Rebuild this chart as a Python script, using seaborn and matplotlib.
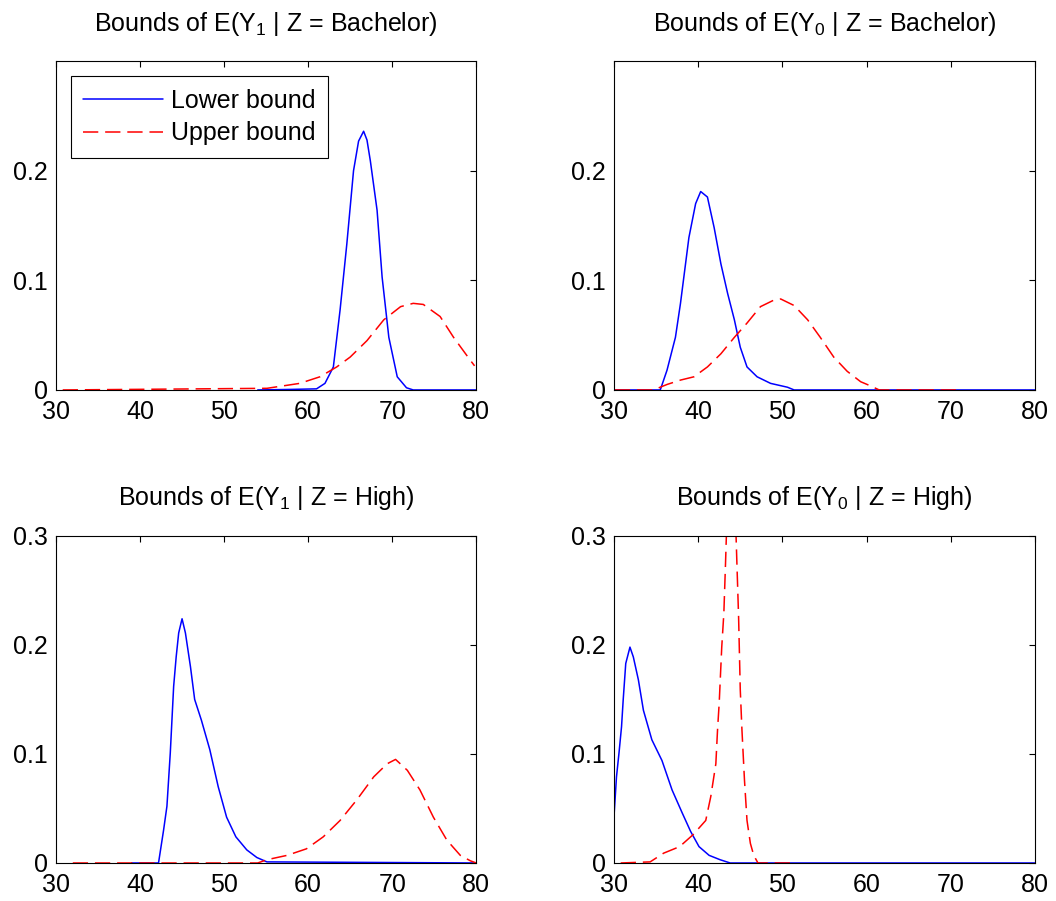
import matplotlib
matplotlib.use('Agg')
import matplotlib.pyplot as plt
import seaborn as sns

# E(Y1 | Z = Bachelor)
y1_bach_lower_x = [54, 58, 61, 62, 63, 63.8, 64.6, 65.4, 66.0, 66.6, 67.0, 67.4, 68.2, 68.8, 69.6, 70.6, 71.7, 72.5, 80]
y1_bach_lower_y = [0, 0.0005, 0.001, 0.006, 0.021, 0.073, 0.133, 0.200, 0.227, 0.236, 0.228, 0.209, 0.164, 0.103, 0.048, 0.012, 0.002, 0, 0]
y1_bach_upper_x = [30.8, 55.1, 59.0, 61.4, 63.4, 65.0, 67.0, 69.0, 71.0, 72.5, 73.7, 75.7, 77.3, 79.3, 79.8]
y1_bach_upper_y = [0, 0.0015, 0.006, 0.012, 0.021, 0.030, 0.045, 0.064, 0.076, 0.079, 0.078, 0.067, 0.048, 0.027, 0.022]

# E(Y0 | Z = Bachelor)
y0_bach_lower_x = [30, 35.5, 36.3, 37.3, 37.9, 38.4, 38.9, 39.7, 40.3, 41.1, 41.9, 42.7, 43.5, 44.3, 45.0, 45.8, 47.0, 48.6, 50.6, 51.4, 80]
y0_bach_lower_y = [0, 0, 0.018, 0.048, 0.079, 0.109, 0.139, 0.170, 0.181, 0.176, 0.148, 0.115, 0.088, 0.064, 0.039, 0.021, 0.012, 0.006, 0.0025, 0, 0]
y0_bach_upper_x = [30.1, 34.7, 36.3, 37.9, 39.5, 41.1, 42.7, 44.3, 45.8, 47.4, 49.0, 49.8, 51.4, 53.0, 54.5, 56.1, 57.7, 59.3, 60.5, 61.5, 71]
y0_bach_upper_y = [0, 0, 0.005, 0.009, 0.012, 0.021, 0.033, 0.048, 0.061, 0.076, 0.082, 0.083, 0.077, 0.064, 0.048, 0.030, 0.017, 0.0075, 0.0036, 0, 0]

# E(Y1 | Z = High)
y1_high_lower_x = [39, 42.2, 42.8, 43.2, 43.6, 44.0, 44.3, 44.6, 45.0, 45.4, 46.0, 46.5, 47.3, 48.3, 49.3, 50.3, 51.4, 52.7, 53.9, 55.1, 80]
y1_high_lower_y = [0, 0, 0.030, 0.052, 0.101, 0.162, 0.189, 0.211, 0.224, 0.211, 0.180, 0.150, 0.131, 0.104, 0.070, 0.042, 0.024, 0.012, 0.005, 0.001, 0]
y1_high_upper_x = [32, 54, 55.1, 57.5, 59.8, 61.8, 63.8, 65.8, 67.8, 69.4, 70.4, 71.8, 73.3, 74.9, 76.5, 78.1, 79.3, 80]
y1_high_upper_y = [0, 0, 0.003, 0.007, 0.013, 0.024, 0.039, 0.058, 0.079, 0.091, 0.095, 0.085, 0.067, 0.042, 0.021, 0.007, 0.002, 0]

# E(Y0 | Z = High)
y0_high_lower_x = [30.0, 30.3, 30.6, 30.9, 31.1, 31.4, 31.9, 32.3, 32.9, 33.5, 34.5, 35.7, 36.9, 38.1, 39.1, 40.1, 41.3, 42.6, 43.8, 80]
y0_high_lower_y = [0.042, 0.079, 0.101, 0.125, 0.150, 0.183, 0.198, 0.189, 0.168, 0.140, 0.113, 0.094, 0.067, 0.046, 0.029, 0.015, 0.007, 0.003, 0, 0]
y0_high_upper_x = [30.8, 34.3, 35.9, 37.8, 39.4, 40.9, 41.5, 42.1, 42.3, 42.5, 42.8, 43.05, 43.25, 43.35, 43.9,
                   44.5, 44.6, 44.8, 45.0, 45.2, 45.5, 45.8, 46.2, 46.6, 47.1, 51.5]
y0_high_upper_y = [0, 0.001, 0.009, 0.015, 0.026, 0.039, 0.061, 0.091, 0.122, 0.147, 0.198, 0.229, 0.275, 0.30, 0.33,
                   0.30, 0.275, 0.226, 0.159, 0.122, 0.076, 0.039, 0.018, 0.007, 0, 0]

titles = [r'Bounds of E(Y$_1$ | Z = Bachelor)', r'Bounds of E(Y$_0$ | Z = Bachelor)',
          r'Bounds of E(Y$_1$ | Z = High)', r'Bounds of E(Y$_0$ | Z = High)']
x_ticks = [30, 40, 50, 60, 70, 80]
y_ticks_top = [0, 0.1, 0.2]
y_ticks_bottom = [0, 0.1, 0.2, 0.3]
y_labels_top = ['0', '0.1', '0.2']
y_labels_bottom = ['0', '0.1', '0.2', '0.3']

sns.set_style('white')
plt.rcParams['font.family'] = ['Liberation Sans', 'DejaVu Sans']
plt.rcParams['mathtext.fontset'] = 'custom'
plt.rcParams['mathtext.rm'] = 'Liberation Sans'
plt.rcParams['mathtext.it'] = 'Liberation Sans:italic'
plt.rcParams['text.color'] = 'black'
plt.rcParams['axes.labelcolor'] = 'black'

fig = plt.figure(figsize=(10.56, 9.01), dpi=100)
positions = [[0.053, 0.5672, 0.398, 0.365], [0.5814, 0.5672, 0.3987, 0.365],
             [0.053, 0.0422, 0.398, 0.363], [0.5814, 0.0422, 0.3987, 0.363]]
panels = [
    (y1_bach_lower_x, y1_bach_lower_y, y1_bach_upper_x, y1_bach_upper_y),
    (y0_bach_lower_x, y0_bach_lower_y, y0_bach_upper_x, y0_bach_upper_y),
    (y1_high_lower_x, y1_high_lower_y, y1_high_upper_x, y1_high_upper_y),
    (y0_high_lower_x, y0_high_lower_y, y0_high_upper_x, y0_high_upper_y),
]

for i, (lx, ly, ux, uy) in enumerate(panels):
    ax = fig.add_axes(positions[i])
    sns.lineplot(x=lx, y=ly, ax=ax, color='#0000ff', lw=1.1, estimator=None, sort=False,
                 label='Lower bound' if i == 0 else None)
    sns.lineplot(x=ux, y=uy, ax=ax, color='#ff0000', lw=1.1, estimator=None, sort=False,
                 linestyle=(0, (10, 4.5)), label='Upper bound' if i == 0 else None)
    ax.set_xlim(30, 80)
    ax.set_ylim(0, 0.3)
    ax.set_xticks(x_ticks)
    ax.set_xticklabels([str(t) for t in x_ticks])
    if i < 2:
        ax.set_yticks(y_ticks_top)
        ax.set_yticklabels(y_labels_top)
    else:
        ax.set_yticks(y_ticks_bottom)
        ax.set_yticklabels(y_labels_bottom)
    ax.tick_params(direction='in', top=True, right=True, length=4.5, width=0.8,
                   labelsize=18, colors='black')
    ax.tick_params(axis='x', pad=7)
    ax.tick_params(axis='y', pad=6)
    for sp in ax.spines.values():
        sp.set_color('black')
        sp.set_linewidth(0.8)
    ax.set_title(titles[i], fontsize=18, pad=22, color='black')
    if i == 0:
        leg = ax.legend(loc='upper left', fontsize=18, frameon=True, fancybox=False,
                        edgecolor='black', framealpha=1, handlelength=3.2,
                        handletextpad=0.3, borderaxespad=0.6, borderpad=0.5,
                        labelspacing=0.35)
        leg.get_frame().set_linewidth(0.8)
        for t in leg.get_texts():
            t.set_color('black')
    else:
        if ax.get_legend() is not None:
            ax.get_legend().remove()

fig.savefig('out.png', dpi=100)
